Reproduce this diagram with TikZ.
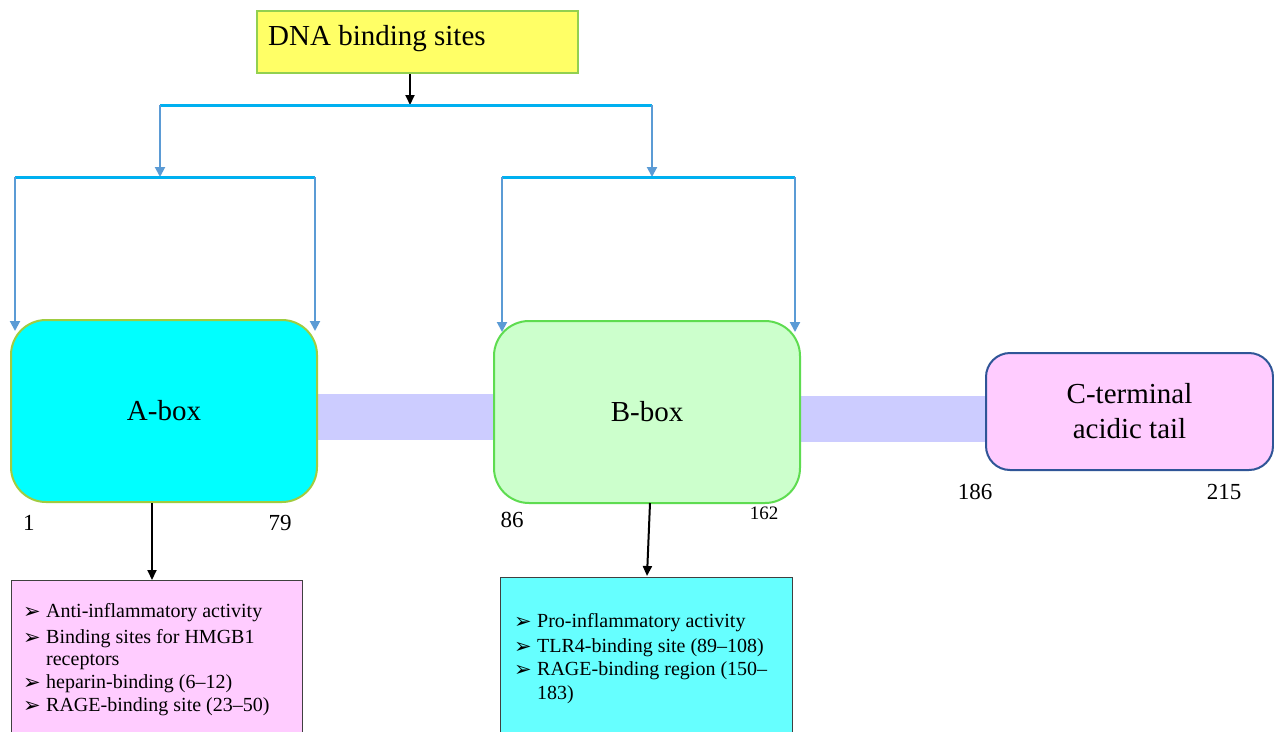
\documentclass[tikz,border=0pt]{standalone}
\usepackage{fontspec}
\setmainfont{Liberation Serif}
\newfontfamily\dejavu{DejaVu Sans}
\usetikzlibrary{arrows.meta}
\definecolor{dnafill}{HTML}{FFFF66}
\definecolor{dnaline}{HTML}{92D050}
\definecolor{brightblue}{HTML}{00B0F0}
\definecolor{softblue}{HTML}{5B9BD5}
\definecolor{abox}{HTML}{00FFFF}
\definecolor{aline}{HTML}{A0CC40}
\definecolor{bbox}{HTML}{CCFFCC}
\definecolor{bline}{HTML}{5EDC50}
\definecolor{cbox}{HTML}{FFCCFF}
\definecolor{cline}{HTML}{2F5597}
\definecolor{linker}{HTML}{CCCCFF}
\definecolor{lbox}{HTML}{FFCCFF}
\definecolor{rbox}{HTML}{66FFFF}
\tikzset{
  x=1pt,y=-1pt,
  bigtext/.style={font=\fontsize{29}{35}\selectfont},
  numtext/.style={font=\fontsize{23}{28}\selectfont, anchor=base},
  itemtext/.style={font=\fontsize{20}{24}\selectfont, anchor=base west, inner sep=0pt},
  bul/.style={font=\dejavu\fontsize{21}{24}\selectfont, anchor=base west, inner sep=0pt},
  domainbox/.style={draw, line width=2pt, rounded corners=35pt, minimum width=306pt, minimum height=182pt, bigtext},
  bar/.style={draw=brightblue, line width=3pt},
  branch/.style={draw=softblue, line width=2pt, -{Triangle[length=10pt,width=10pt]}},
  blackarrow/.style={draw=black, line width=2pt, -{Triangle[length=10pt,width=9pt]}},
  infobox/.style={draw=black!75, line width=1pt},
}
\begin{document}
\begin{tikzpicture}
\useasboundingbox (0,0) rectangle (1274,731);
\fill[white] (0,0) rectangle (1274,731);

% linkers
\fill[linker] (317,394) rectangle (494,440);
\fill[linker] (800,396) rectangle (986,442);

% DNA binding box
\node[draw=dnaline, fill=dnafill, line width=2pt, minimum width=321pt, minimum height=62pt, anchor=north west] (dna) at (256,10) {};
\node[bigtext, anchor=base west, inner sep=0pt] (dnatxt) at (268,45) {DNA binding sites};

% domain boxes
\node[domainbox, draw=aline, fill=abox] (A) at (164,411) {A-box};
\node[domainbox, draw=bline, fill=bbox] (B) at (647,412) {B-box};
\node[draw=cline, fill=cbox, line width=2pt, rounded corners=24pt, minimum width=287pt, minimum height=117pt, bigtext, align=center] (C) at (1129.5,411.5) {C-terminal\\acidic tail};

% bracket coordinates
\coordinate (top) at (410,105);
\coordinate (tl) at (160,105);
\coordinate (tr) at (652,105);
\coordinate (al) at (160,177);
\coordinate (ar) at (652,177);
\coordinate (a1) at (15,177);
\coordinate (a2) at (315,177);
\coordinate (b1) at (502,177);
\coordinate (b2) at (795,177);
\coordinate (a1e) at (15,331);
\coordinate (a2e) at (315,331);
\coordinate (b1e) at (502,332);
\coordinate (b2e) at (795,332);

\draw[blackarrow] (dna.south -| top) -- (top);
\draw[bar] (tl) -- (tr);
\draw[branch] (tl) -- (al);
\draw[branch] (tr) -- (ar);
\draw[bar] (a1) -- (a2);
\draw[bar] (b1) -- (b2);
\draw[branch] (a1) -- (a1e);
\draw[branch] (a2) -- (a2e);
\draw[branch] (b1) -- (b1e);
\draw[branch] (b2) -- (b2e);

% numbers
\node[numtext] (n1) at (29,530) {1};
\node[numtext] (n79) at (280,530) {79};
\node[numtext] (n86) at (512,527) {86};
\node[numtext, font=\fontsize{19}{23}\selectfont] (n162) at (764,519) {162};
\node[numtext] (n186) at (975,499) {186};
\node[numtext] (n215) at (1224,499) {215};

% info boxes
\draw[infobox, fill=lbox] (11,735) -- (11,580) -- (302,580) -- (302,735);
\coordinate (lb) at (152,580);
\draw[infobox, fill=rbox] (500,735) -- (500,577) -- (792,577) -- (792,735);
\coordinate (rb) at (647,576);
\draw[blackarrow] (152,503) -- (lb);
\draw[blackarrow] (650,503) -- (rb);

% left list
\node[bul] (lb1) at (23,618) {➢};
\node[itemtext] (lt1) at (46,617) {Anti-inflammatory activity};
\node[bul] (lb2) at (23,644) {➢};
\node[itemtext] (lt2) at (46,643) {Binding sites for HMGB1};
\node[itemtext] (lt2b) at (46,665) {receptors};
\node[bul] (lb3) at (23,689) {➢};
\node[itemtext] (lt3) at (46,688) {heparin-binding (6–12)};
\node[bul] (lb4) at (23,712) {➢};
\node[itemtext] (lt4) at (46,711) {RAGE-binding site (23–50)};

% right list
\node[bul] (rb1) at (514,628) {➢};
\node[itemtext] (rt1) at (537,627) {Pro-inflammatory activity};
\node[bul] (rb2) at (514,653) {➢};
\node[itemtext] (rt2) at (537,652) {TLR4-binding site (89–108)};
\node[bul] (rb3) at (514,676) {➢};
\node[itemtext] (rt3) at (537,675) {RAGE-binding region (150–};
\node[itemtext] (rt3b) at (537,699) {183)};
\end{tikzpicture}
\end{document}
